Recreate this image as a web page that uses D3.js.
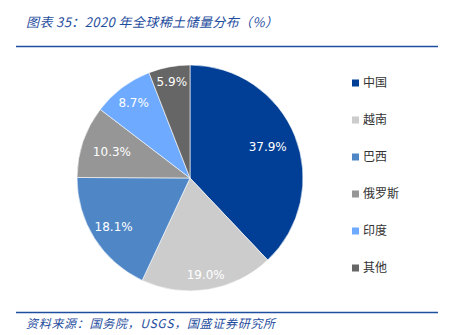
<!DOCTYPE html>
<html><head><meta charset="utf-8">
<script src="https://cdn.jsdelivr.net/npm/d3@7/dist/d3.min.js"></script>
<style>body{margin:0;background:#fff;}svg{display:block;}</style>
</head><body>
<svg id="c" width="456" height="335"></svg>
<script>
const categories = ["中国", "越南", "巴西", "俄罗斯", "印度", "其他"];
const values = [37.9, 19.0, 18.1, 10.3, 8.7, 5.9];
const colors = ["#003f95", "#cccccc", "#4f87c6", "#969696", "#6eaaff", "#666666"];
const titleText = "图表 35：2020 年全球稀土储量分布（%）";
const sourceText = "资料来源：国务院，USGS，国盛证券研究所";

const svg = d3.select("#c");
const blue = "#1f4e9e";
const cx = 190, cy = 178, r = 113;
const labelFactors = [0.74, 0.87, 0.8, 0.73, 0.83, 0.87];

svg.append("text").attr("x", 26).attr("y", 27)
  .attr("font-family", "Noto Sans CJK SC").attr("font-style", "italic")
  .attr("font-size", 13).attr("letter-spacing", 0.4).attr("fill", blue).text(titleText);
svg.append("line").attr("x1", 16).attr("x2", 438).attr("y1", 46.5).attr("y2", 46.5)
  .attr("stroke", blue).attr("stroke-width", 1.6);
svg.append("line").attr("x1", 16).attr("x2", 438).attr("y1", 312.5).attr("y2", 312.5)
  .attr("stroke", blue).attr("stroke-width", 1.6);
svg.append("text").attr("x", 26).attr("y", 328)
  .attr("font-family", "Noto Sans CJK SC").attr("font-style", "italic")
  .attr("font-size", 12).attr("letter-spacing", 0.7).attr("fill", blue).text(sourceText);

const pie = d3.pie().sort(null).value(d => d)(values);
const arc = d3.arc().innerRadius(0).outerRadius(r);
const g = svg.append("g").attr("transform", `translate(${cx},${cy})`);
g.selectAll("path").data(pie).join("path")
  .attr("d", arc).attr("fill", (d, i) => colors[i])
  .attr("stroke", "#fff").attr("stroke-width", 0.6);
g.selectAll("text").data(pie).join("text")
  .attr("transform", (d, i) => {
    const rr = r * labelFactors[i];
    const [x, y] = d3.arc().innerRadius(rr).outerRadius(rr).centroid(d);
    return `translate(${x},${y})`;
  })
  .attr("text-anchor", "middle").attr("dy", "0.36em")
  .attr("font-family", "DejaVu Sans").attr("font-size", 12)
  .attr("fill", "#fff").text(d => d.data.toFixed(1) + "%");

const leg = svg.append("g");
const ly = d3.scalePoint().domain(categories).range([83, 268]);
categories.forEach((c, i) => {
  leg.append("rect").attr("x", 352).attr("y", ly(c) - 3.5).attr("width", 7).attr("height", 7)
    .attr("fill", colors[i]);
  leg.append("text").attr("x", 363).attr("y", ly(c)).attr("dy", "0.36em")
    .attr("font-family", "Noto Sans CJK SC").attr("font-size", 12).attr("fill", "#333")
    .text(c);
});
</script>
</body></html>
